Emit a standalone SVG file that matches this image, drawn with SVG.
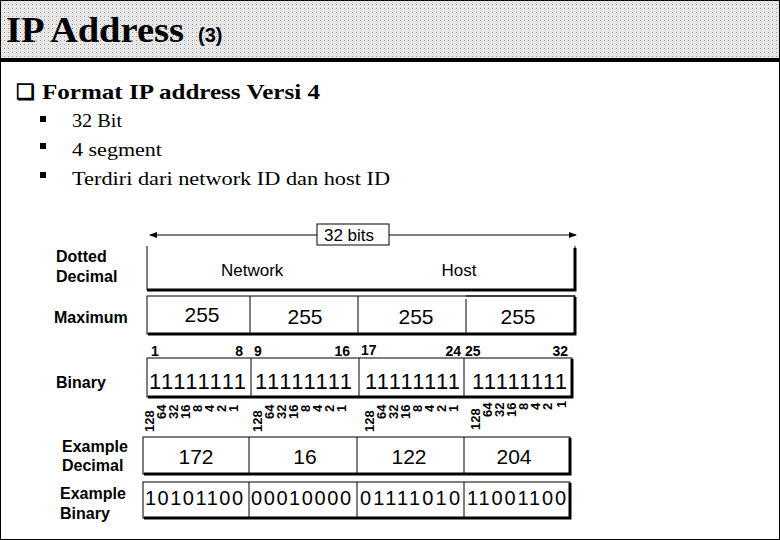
<svg xmlns="http://www.w3.org/2000/svg" width="780" height="540" viewBox="0 0 780 540">
<style>
.s{font-family:"Liberation Serif",serif;fill:#000}
.a{font-family:"Liberation Sans",Arial,sans-serif;font-weight:bold;fill:#000}
.n{font-family:"Liberation Sans",Arial,sans-serif;font-weight:normal;fill:#000}
.box{fill:#fff;stroke:#000;stroke-width:1}
.sh{fill:none;stroke:#000;stroke-width:3}
.ln{stroke:#000;stroke-width:1}
.w{font-family:"Liberation Sans",Arial,sans-serif;font-weight:bold;font-size:13px}
</style>
<defs>
<pattern id="dots" width="4" height="4" patternUnits="userSpaceOnUse"><rect width="4" height="4" fill="#e6e6e6"/><rect width="1" height="1" fill="#9a9a9a"/></pattern>
<marker id="ar" markerWidth="8" markerHeight="8" refX="7" refY="4" orient="auto-start-reverse" markerUnits="userSpaceOnUse"><path d="M0,1 L8,4 L0,7 Z" fill="#000"/></marker>
</defs>
<rect width="780" height="540" fill="#fff"/>
<rect x="0" y="0" width="780" height="59" fill="url(#dots)"/>
<rect x="0" y="58" width="780" height="4" fill="#000"/>
<rect x="0.5" y="0.5" width="779" height="539" fill="none" stroke="#000"/>
<text class="s" x="6" y="42" font-size="35" font-weight="bold" textLength="178" lengthAdjust="spacingAndGlyphs">IP Address</text>
<text class="a" x="198" y="42" font-size="20">(3)</text>
<g id="bullets">
<text class="s" x="16" y="99" font-size="21" font-weight="bold">❑</text>
<text class="s" x="42" y="99" font-size="21" font-weight="bold" textLength="278" lengthAdjust="spacingAndGlyphs">Format IP address Versi 4</text>
<rect x="40" y="116" width="6" height="6"/><text class="s" x="72" y="127" font-size="19" textLength="50" lengthAdjust="spacingAndGlyphs">32 Bit</text>
<rect x="40" y="143" width="6" height="6"/><text class="s" x="72" y="156" font-size="19" textLength="90" lengthAdjust="spacingAndGlyphs">4 segment</text>
<rect x="40" y="172" width="6" height="6"/><text class="s" x="72" y="185" font-size="19" textLength="318" lengthAdjust="spacingAndGlyphs">Terdiri dari network ID dan host ID</text>
</g>
<g id="connectors">
<line class="ln" x1="150" y1="235" x2="576" y2="235" stroke-width="1.5" marker-start="url(#ar)" marker-end="url(#ar)"/>
</g>
<g id="bits-label">
<rect class="box" x="317" y="224" width="72" height="21"/>
<text class="n" x="349" y="241" font-size="17" text-anchor="middle">32 bits</text>
</g>
<g id="labels" font-size="16">
<text class="a" x="56" y="262">Dotted</text>
<text class="a" x="56" y="282">Decimal</text>
<text class="a" x="54" y="323">Maximum</text>
<text class="a" x="56" y="388">Binary</text>
<text class="a" x="62" y="452">Example</text>
<text class="a" x="62" y="471">Decimal</text>
<text class="a" x="60" y="499">Example</text>
<text class="a" x="60" y="519">Binary</text>
</g>
<g id="dotted">
<path class="ln" d="M147,246 V290 H575 V246" fill="none"/>
<path class="sh" d="M147,290 H575 V248"/>
<text class="n" x="221" y="276" font-size="17">Network</text>
<text class="n" x="459" y="276" font-size="17" text-anchor="middle">Host</text>
</g>
<g id="maximum" font-size="21">
<rect class="box" x="147" y="296" width="428" height="38"/>
<path class="sh" d="M148,334 H575 V297"/>
<path class="ln" d="M250,296 V334 M358,296 V334 M466,299 V334 M466,296 H575"/>
<text class="n" x="202" y="322" text-anchor="middle">255</text>
<text class="n" x="305" y="324" text-anchor="middle">255</text>
<text class="n" x="416" y="324" text-anchor="middle">255</text>
<text class="n" x="518" y="324" text-anchor="middle">255</text>
</g>
<g id="positions" font-size="14">
<text class="a" x="151" y="356">1</text><text class="a" x="243" y="356" text-anchor="end">8</text>
<text class="a" x="254" y="356">9</text><text class="a" x="350" y="356" text-anchor="end">16</text>
<text class="a" x="361" y="355">17</text><text class="a" x="461" y="356" text-anchor="end">24</text>
<text class="a" x="465" y="356">25</text><text class="a" x="568" y="356" text-anchor="end">32</text>
</g>
<g id="binary" font-size="22">
<rect class="box" x="147" y="358" width="425" height="39"/>
<path class="sh" d="M148,397 H572 V359"/>
<path class="ln" d="M251,358 V397 M359,358 V397 M464,358 V397"/>
<text class="n" x="149" y="389" textLength="97">11111111</text>
<text class="n" x="255" y="389" textLength="97">11111111</text>
<text class="n" x="365" y="389" textLength="95">11111111</text>
<text class="n" x="472" y="389" textLength="95">11111111</text>
</g>
<g id="weights" class="w">
<g transform="translate(154,432) rotate(-90)"><text>128</text></g>
<g transform="translate(166,419) rotate(-90)"><text>64</text></g>
<g transform="translate(178,419) rotate(-90)"><text>32</text></g>
<g transform="translate(190,419) rotate(-90)"><text>16</text></g>
<g transform="translate(202,412) rotate(-90)"><text>8</text></g>
<g transform="translate(214,412) rotate(-90)"><text>4</text></g>
<g transform="translate(226,412) rotate(-90)"><text>2</text></g>
<g transform="translate(238,412) rotate(-90)"><text>1</text></g>
<g transform="translate(262,432) rotate(-90)"><text>128</text></g>
<g transform="translate(274,419) rotate(-90)"><text>64</text></g>
<g transform="translate(286,419) rotate(-90)"><text>32</text></g>
<g transform="translate(298,419) rotate(-90)"><text>16</text></g>
<g transform="translate(310,412) rotate(-90)"><text>8</text></g>
<g transform="translate(322,412) rotate(-90)"><text>4</text></g>
<g transform="translate(334,412) rotate(-90)"><text>2</text></g>
<g transform="translate(346,412) rotate(-90)"><text>1</text></g>
<g transform="translate(374,432) rotate(-90)"><text>128</text></g>
<g transform="translate(386,419) rotate(-90)"><text>64</text></g>
<g transform="translate(398,419) rotate(-90)"><text>32</text></g>
<g transform="translate(410,419) rotate(-90)"><text>16</text></g>
<g transform="translate(422,412) rotate(-90)"><text>8</text></g>
<g transform="translate(434,412) rotate(-90)"><text>4</text></g>
<g transform="translate(446,412) rotate(-90)"><text>2</text></g>
<g transform="translate(458,412) rotate(-90)"><text>1</text></g>
<g transform="translate(480,430) rotate(-90)"><text>128</text></g>
<g transform="translate(492,417) rotate(-90)"><text>64</text></g>
<g transform="translate(504,417) rotate(-90)"><text>32</text></g>
<g transform="translate(516,417) rotate(-90)"><text>16</text></g>
<g transform="translate(528,410) rotate(-90)"><text>8</text></g>
<g transform="translate(540,410) rotate(-90)"><text>4</text></g>
<g transform="translate(552,410) rotate(-90)"><text>2</text></g>
<g transform="translate(566,408) rotate(-90)"><text>1</text></g>
</g>
<g id="exdec" font-size="21">
<rect class="box" x="143" y="437" width="427" height="37"/>
<path class="sh" d="M144,474 H570 V438"/>
<path class="ln" d="M249,437 V474 M357,437 V474 M464,437 V474"/>
<text class="n" x="196" y="464" text-anchor="middle">172</text>
<text class="n" x="305" y="464" text-anchor="middle">16</text>
<text class="n" x="409" y="464" text-anchor="middle">122</text>
<text class="n" x="514" y="464" text-anchor="middle">204</text>
</g>
<g id="exbin" font-size="20">
<rect class="box" x="143" y="482" width="427" height="36"/>
<path class="sh" d="M144,518 H570 V483"/>
<path class="ln" d="M249,482 V518 M357,482 V518 M464,482 V518"/>
<text class="n" x="145" y="505" textLength="98">10101100</text>
<text class="n" x="251" y="505" textLength="100">00010000</text>
<text class="n" x="360" y="505" textLength="100">01111010</text>
<text class="n" x="467" y="505" textLength="99">11001100</text>
</g>
</svg>
